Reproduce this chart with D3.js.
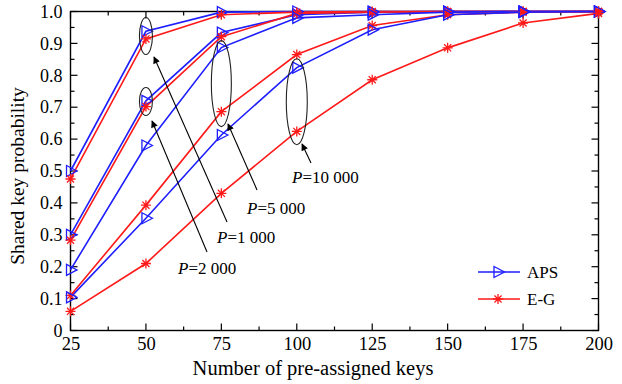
<!DOCTYPE html>
<html>
<head>
<meta charset="utf-8">
<script src="https://cdn.jsdelivr.net/npm/d3@7"></script>
<style>
  html, body { margin: 0; padding: 0; background: #fff; }
  svg { display: block; font-family: "Liberation Serif", "Times New Roman", serif; }
</style>
</head>
<body>
<svg id="chart" width="622" height="384"></svg>
<script>
// Number of pre-assigned keys (x axis)
const keys = [25, 50, 75, 100, 125, 150, 175, 200];

// Shared key probability per pool size P, for each scheme
const aps1000  = [0.500, 0.938, 0.998, 1.000, 1.000, 1.000, 1.000, 1.000];
const eg1000   = [0.475, 0.914, 0.990, 0.998, 1.000, 1.000, 1.000, 1.000];
const aps2000  = [0.300, 0.720, 0.934, 0.990, 0.998, 1.000, 1.000, 1.000];
const eg2000   = [0.283, 0.702, 0.921, 0.994, 0.998, 1.000, 1.000, 1.000];
const aps5000  = [0.190, 0.580, 0.887, 0.980, 0.990, 0.998, 1.000, 1.000];
const eg5000   = [0.110, 0.393, 0.686, 0.865, 0.956, 0.990, 0.998, 1.000];
const aps10000 = [0.104, 0.352, 0.613, 0.824, 0.943, 0.990, 0.998, 1.000];
const eg10000  = [0.060, 0.210, 0.430, 0.624, 0.786, 0.886, 0.964, 0.994];

const xTicks = [25, 50, 75, 100, 125, 150, 175, 200];
const yTicks = [0, 0.1, 0.2, 0.3, 0.4, 0.5, 0.6, 0.7, 0.8, 0.9, 1.0];
const yTickLabels = ["0", "0.1", "0.2", "0.3", "0.4", "0.5", "0.6", "0.7", "0.8", "0.9", "1.0"];

const seriesList = [
  { scheme: "APS", values: aps1000 },
  { scheme: "E-G", values: eg1000 },
  { scheme: "APS", values: aps2000 },
  { scheme: "E-G", values: eg2000 },
  { scheme: "APS", values: aps5000 },
  { scheme: "E-G", values: eg5000 },
  { scheme: "APS", values: aps10000 },
  { scheme: "E-G", values: eg10000 }
];

const BLUE = "#1e1eff";
const RED = "#ff1a1a";
const colorOf = { "APS": BLUE, "E-G": RED };

const svg = d3.select("#chart");
const plotLeft = 70.5, plotRight = 598.5, plotTop = 11.5, plotBottom = 330.5;

const x = d3.scaleLinear().domain([25, 200]).range([plotLeft, plotRight]);
const y = d3.scaleLinear().domain([0, 1]).range([plotBottom, plotTop]);

// Frame with inward ticks on every side
const minorX = d3.range(25, 200.01, 12.5);
const minorY = d3.range(0, 1.001, 0.05);
const tickLayer = svg.append("g").attr("stroke", "#000").attr("stroke-width", 1.2);
minorX.forEach(v => {
  const len = xTicks.includes(v) ? 7 : 4;
  tickLayer.append("line").attr("x1", x(v)).attr("x2", x(v)).attr("y1", plotBottom).attr("y2", plotBottom - len);
  tickLayer.append("line").attr("x1", x(v)).attr("x2", x(v)).attr("y1", plotTop).attr("y2", plotTop + len);
});
minorY.forEach(v => {
  const major = Math.abs(v * 10 - Math.round(v * 10)) < 1e-6;
  const len = major ? 7 : 4;
  tickLayer.append("line").attr("x1", plotLeft).attr("x2", plotLeft + len).attr("y1", y(v)).attr("y2", y(v));
  tickLayer.append("line").attr("x1", plotRight).attr("x2", plotRight - len).attr("y1", y(v)).attr("y2", y(v));
});

// Axis labels through d3 axes (tick marks hidden, drawn above)
const xAxis = d3.axisBottom(x).tickValues(xTicks).tickSize(0).tickPadding(6).tickFormat(d3.format("d"));
svg.append("g").attr("transform", `translate(0,${plotBottom})`).call(xAxis)
  .call(g => g.select(".domain").remove())
  .call(g => g.selectAll("text").attr("font-size", 18.5).attr("fill", "#000").attr("font-family", "Liberation Serif"));

const yAxis = d3.axisLeft(y).tickValues(yTicks).tickSize(0).tickPadding(8)
  .tickFormat((d, i) => yTickLabels[i]);
svg.append("g").attr("transform", `translate(${plotLeft},0)`).call(yAxis)
  .call(g => g.select(".domain").remove())
  .call(g => g.selectAll("text").attr("font-size", 18).attr("fill", "#000").attr("font-family", "Liberation Serif"));

svg.append("rect").attr("x", plotLeft).attr("y", plotTop).attr("width", plotRight - plotLeft).attr("height", plotBottom - plotTop)
  .attr("fill", "none").attr("stroke", "#000").attr("stroke-width", 1.4);

// Series lines and markers
const line = d3.line().x((d, i) => x(keys[i])).y(d => y(d));
const plot = svg.append("g");

function triangle(g, cx, cy, color) {
  g.append("path")
    .attr("d", `M${cx - 4},${cy - 5.5}L${cx + 6.5},${cy}L${cx - 4},${cy + 5.5}Z`)
    .attr("fill", "none").attr("stroke", color).attr("stroke-width", 1.3);
}
function asterisk(g, cx, cy, color) {
  const r = 5;
  const p = [];
  for (let k = 0; k < 4; k++) {
    const a = k * Math.PI / 4;
    p.push(`M${cx - r * Math.cos(a)},${cy - r * Math.sin(a)}L${cx + r * Math.cos(a)},${cy + r * Math.sin(a)}`);
  }
  g.append("path").attr("d", p.join("")).attr("stroke", color).attr("stroke-width", 1.3).attr("fill", "none");
}

seriesList.forEach(s => {
  plot.append("path").datum(s.values).attr("d", line)
    .attr("fill", "none").attr("stroke", colorOf[s.scheme]).attr("stroke-width", 1.6);
});
seriesList.forEach(s => {
  s.values.forEach((v, i) => {
    if (s.scheme === "APS") triangle(plot, x(keys[i]), y(v), BLUE);
    else asterisk(plot, x(keys[i]), y(v), RED);
  });
});

// Grouping ellipses around each pool size
const groups = [
  { cx: 50,  cy: 0.923, rx: 6.5, ry: 18.5 },
  { cx: 50,  cy: 0.718, rx: 6.5, ry: 14 },
  { cx: 75,  cy: 0.774, rx: 10,  ry: 43 },
  { cx: 100, cy: 0.717, rx: 10.5, ry: 43 }
];
const ann = svg.append("g");
groups.forEach(gp => {
  ann.append("ellipse").attr("cx", x(gp.cx)).attr("cy", y(gp.cy)).attr("rx", gp.rx).attr("ry", gp.ry)
    .attr("fill", "none").attr("stroke", "#222").attr("stroke-width", 1.1);
});

// Pointer lines from labels to ellipses
svg.append("defs").append("marker").attr("id", "head")
  .attr("viewBox", "0 0 10 10").attr("refX", 9).attr("refY", 5)
  .attr("markerWidth", 9).attr("markerHeight", 7).attr("markerUnits", "userSpaceOnUse")
  .attr("orient", "auto")
  .append("path").attr("d", "M0,0L10,5L0,10Z").attr("fill", "#000");

const pointers = [
  { label: "1 000",  from: [227, 222], to: [154, 57],  tx: 217, ty: 243 },
  { label: "2 000",  from: [207, 252], to: [152, 121], tx: 178, ty: 274 },
  { label: "5 000",  from: [257, 190], to: [228, 124], tx: 247, ty: 214 },
  { label: "10 000", from: [311, 163], to: [302, 144], tx: 292, ty: 183 }
];
pointers.forEach(p => {
  ann.append("line").attr("x1", p.from[0]).attr("y1", p.from[1]).attr("x2", p.to[0]).attr("y2", p.to[1])
    .attr("stroke", "#000").attr("stroke-width", 1.1).attr("marker-end", "url(#head)");
  const t = ann.append("text").attr("x", p.tx).attr("y", p.ty).attr("font-size", 17).attr("fill", "#000");
  t.append("tspan").attr("font-style", "italic").text("P");
  t.append("tspan").text("=" + p.label);
});

// Legend
const legend = svg.append("g");
[["APS", 272], ["E-G", 299]].forEach(([name, ly]) => {
  legend.append("line").attr("x1", 478).attr("x2", 520).attr("y1", ly).attr("y2", ly)
    .attr("stroke", colorOf[name]).attr("stroke-width", 1.6);
  if (name === "APS") triangle(legend, 498, ly, BLUE); else asterisk(legend, 498, ly, RED);
  legend.append("text").attr("x", 527).attr("y", ly).attr("dy", "0.35em")
    .attr("font-size", 17).attr("fill", "#000").text(name);
});

// Axis titles
svg.append("text").attr("x", 313).attr("y", 375).attr("text-anchor", "middle")
  .attr("font-size", 20.5).attr("fill", "#000").text("Number of pre-assigned keys");
svg.append("text").attr("transform", `translate(24,176) rotate(-90)`)
  .attr("text-anchor", "middle").attr("font-size", 19.5).attr("fill", "#000").text("Shared key probability");
</script>
</body>
</html>
